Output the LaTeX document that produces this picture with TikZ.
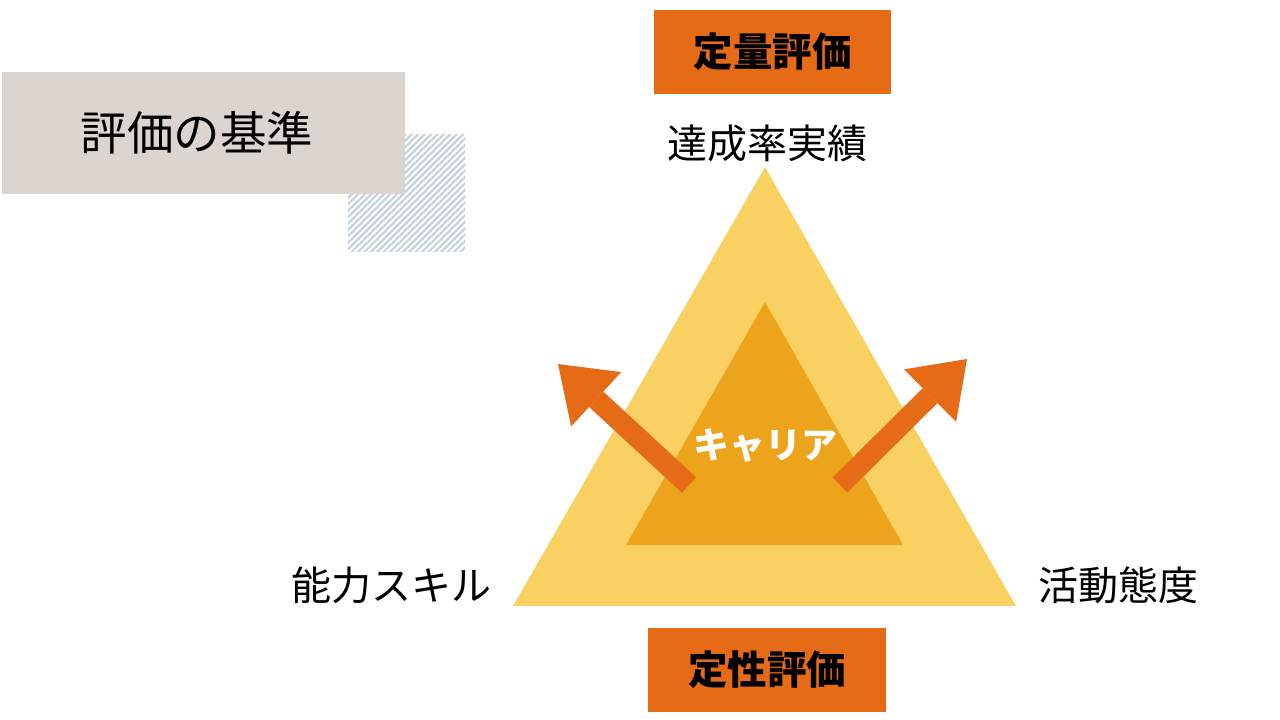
\documentclass[tikz,border=0pt]{standalone}
\usepackage{fontspec}
\newfontfamily\jp{Noto Sans CJK JP}
\usetikzlibrary{arrows.meta}
\definecolor{orng}{HTML}{E66B17}
\definecolor{outerY}{HTML}{F9D162}
\definecolor{innerY}{HTML}{EDA41D}
\definecolor{graybg}{HTML}{DBD4CF}
\definecolor{hatchc}{HTML}{C7D2DC}
\tikzset{
  catbox/.style={fill=orng, minimum width=237pt, minimum height=84pt, inner sep=0pt,
    font=\jp\bfseries\fontsize{39.5}{39.5}\selectfont, text=black},
  lbl/.style={inner sep=0pt, font=\jp\fontsize{40}{40}\selectfont, text=black},
  bigarrow/.style={draw=orng, line width=21pt, -{Triangle[width=74pt,length=52pt,line width=0pt]}, orng}
}
\begin{document}
\begin{tikzpicture}[x=1pt,y=-1pt]
\useasboundingbox (0,0) rectangle (1280,720);
% hatched square
\begin{scope}
  \clip (348,134) rectangle (465,251);
  \foreach \i in {0,...,38} {
    \draw[hatchc, line width=2.2pt] (228+\i*6.4, 254) -- ++(124,-124);
  }
\end{scope}
% title box
\node[fill=graybg, minimum width=403pt, minimum height=122pt, inner sep=0pt, anchor=north west] (titlebox) at (2,72) {};
\node[inner sep=0pt, font=\jp\fontsize{46.5}{46.5}\selectfont] (title) at (197,133) {評価の基準};
% triangles
\fill[outerY] (765,167) -- (1016,606) -- (513,606) -- cycle;
\fill[innerY] (765,302) -- (903,545) -- (626,545) -- cycle;
% arrows
\coordinate (lbase) at (689,485);
\coordinate (ltip) at (558,364);
\coordinate (rbase) at (840,485);
\coordinate (rtip) at (967,359);
\draw[bigarrow] (lbase) -- (ltip);
\draw[bigarrow] (rbase) -- (rtip);
% career label
\node[inner sep=0pt, font=\jp\bfseries\fontsize{36}{36}\selectfont, text=white] (career) at (765,446) {キャリア};
% category boxes
\node[catbox] (quant) at (772.5,52) {定量評価};
\node[catbox, minimum width=238pt] (qual) at (767,670) {定性評価};
% labels
\node[lbl] (top) at (767,143) {達成率実績};
\node[lbl] (left) at (391,585) {能力スキル};
\node[lbl] (right) at (1118.5,585) {活動態度};
\end{tikzpicture}
\end{document}
